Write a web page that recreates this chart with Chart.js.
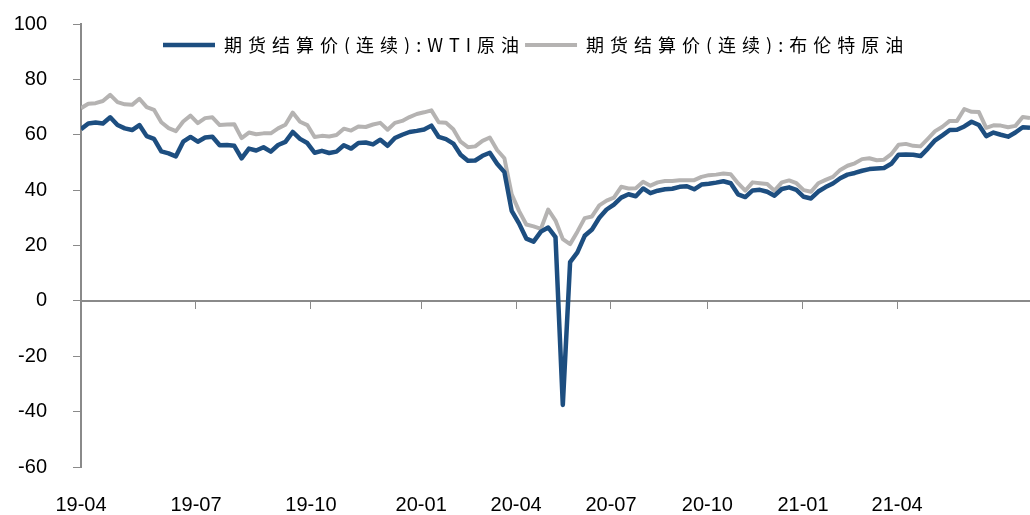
<!DOCTYPE html>
<html>
<head>
<meta charset="utf-8">
<script src="https://cdn.jsdelivr.net/npm/chart.js@4/dist/chart.umd.min.js"></script>
<style>
  html, body { margin: 0; padding: 0; background: #fff; }
  #wrap { width: 1030px; height: 515px; }
</style>
</head>
<body>
<div id="wrap"><canvas id="oilChart" width="1030" height="515"></canvas></div>
<script>
// weekly settlement prices, continuous front-month contract (USD/bbl)
const wti = [
  62.0, 64.1, 64.4, 64.1, 66.3, 63.5, 62.3, 61.7, 63.5, 59.5,
  58.5, 54.0, 53.3, 52.2, 57.5, 59.2, 57.5, 59.0, 59.3, 56.2,
  56.3, 56.0, 51.5, 55.0, 54.3, 55.5, 53.9, 56.3, 57.4, 61.0,
  58.5, 57.0, 53.5, 54.2, 53.4, 53.9, 56.2, 55.0, 57.0, 57.2,
  56.5, 58.2, 56.0, 58.8, 60.0, 61.0, 61.4, 61.9, 63.3, 59.2,
  58.4, 56.8, 52.8, 50.6, 50.7, 52.4, 53.5, 49.5, 46.5, 32.5,
  28.0, 22.5, 21.4, 25.0, 26.5, 23.0, -37.6, 14.0, 17.5, 23.5,
  25.8, 30.0, 33.0, 34.8, 37.3, 38.5, 37.8, 40.6, 38.9, 39.8,
  40.3, 40.5, 41.2, 41.4, 40.3, 42.0, 42.3, 42.7, 43.2, 42.5,
  38.5, 37.5, 39.9, 40.1, 39.4, 38.0, 40.4, 41.0, 40.1, 37.6,
  37.0, 39.5, 41.1, 42.4, 44.3, 45.6, 46.2, 47.0, 47.6, 47.8,
  48.0, 49.5, 52.8, 52.9, 52.8, 52.3, 55.0, 58.0, 59.8, 61.7,
  61.8, 63.0, 64.7, 63.5, 59.5, 60.8, 60.0, 59.3, 60.8, 62.7,
  62.5
];
const brent = [
  69.6, 71.2, 71.4, 72.2, 74.4, 71.8, 71.0, 70.8, 73.0, 70.0,
  69.0, 64.5, 62.4, 61.3, 64.8, 66.9, 64.2, 66.0, 66.3, 63.5,
  63.7, 63.8, 58.8, 60.8, 60.2, 60.5, 60.5, 62.3, 63.6, 68.0,
  64.7, 63.5, 59.2, 59.6, 59.4, 59.9, 62.2, 61.5, 63.0, 62.8,
  63.7, 64.3, 61.8, 64.3, 65.0, 66.4, 67.5, 68.1, 68.8, 64.5,
  64.3, 62.0, 57.5, 55.5, 55.8, 57.8, 59.0, 54.5, 51.5, 38.5,
  32.5, 27.6, 26.9, 26.0, 33.0, 29.0, 22.3, 20.5, 25.0, 29.9,
  30.5, 34.5, 36.2, 37.3, 41.2, 40.6, 40.7, 43.0, 41.6, 42.8,
  43.3, 43.3, 43.6, 43.6, 43.6, 44.8, 45.4, 45.6, 46.0, 45.7,
  42.5, 39.8, 42.8, 42.5, 42.2, 39.8, 42.8, 43.5, 42.5, 40.0,
  39.4, 42.5, 43.7, 44.8, 47.3, 48.8, 49.7, 51.2, 51.5, 50.8,
  51.0, 53.0, 56.4, 56.7, 56.0, 55.8, 58.5, 61.3, 62.9, 65.0,
  65.0, 69.3, 68.3, 68.2, 62.5, 63.4, 63.3, 62.7, 63.2, 66.4,
  66.0
];

const seriesNames = ['期货结算价(连续):WTI原油', '期货结算价(连续):布伦特原油'];

// quarter labels and the sample index each one falls on
const tickLabels = ['19-04', '19-07', '19-10', '20-01', '20-04', '20-07', '20-10', '21-01', '21-04'];
const tickIndex = [0, 15.75, 31.5, 46.6, 59.6, 72.6, 85.8, 98.9, 111.8];

const yTicks = [-60, -40, -20, 0, 20, 40, 60, 80, 100];

const axisGray = '#8a8a8a';
const legendSpacing = '6px';

const toPoints = arr => arr.map((v, i) => ({ x: i, y: v }));
const setQuarterTicks = scale => {
    scale.ticks = tickIndex.map(v => ({ value: v }));
};

// legend floats inside the plot (takes no layout height) and its text is letter-spaced
const legendInPlot = {
    id: 'legendInPlot',
    beforeLayout(chart) {
        const lg = chart.legend;
        if (lg && !lg._floating) {
            const fit = lg.fit;
            lg.fit = function () {
                fit.call(this);
                this.height = 0;
            };
            lg._floating = true;
        }
        chart.ctx.letterSpacing = legendSpacing;
    },
    afterLayout(chart) {
        const lg = chart.legend;
        lg.left = 163;
        lg.top = 36;
        lg.bottom = lg.top + 18;
        chart.ctx.letterSpacing = '0px';
    },
    beforeDraw(chart) {
        chart.ctx.letterSpacing = legendSpacing;
    },
    beforeDatasetsDraw(chart) {
        chart.ctx.letterSpacing = '0px';
    }
};

const ctx = document.getElementById('oilChart').getContext('2d');
new Chart(ctx, {
    type: 'line',
    data: {
        datasets: [{
            label: seriesNames[0],
            data: toPoints(wti),
            borderColor: '#1d4e80',
            backgroundColor: '#1d4e80',
            borderWidth: 4.5,
            borderJoinStyle: 'round',
            pointRadius: 0,
            tension: 0
        }, {
            label: seriesNames[1],
            data: toPoints(brent),
            borderColor: '#b5b3b2',
            backgroundColor: '#b5b3b2',
            borderWidth: 4,
            borderJoinStyle: 'round',
            pointRadius: 0,
            tension: 0
        }]
    },
    options: {
        responsive: false,
        animation: false,
        events: [],
        layout: {
            padding: { top: 24, left: 0, right: 0, bottom: 0 }
        },
        plugins: {
            tooltip: { enabled: false },
            legend: {
                position: 'top',
                align: 'start',
                labels: {
                    usePointStyle: true,
                    pointStyle: 'line',
                    pointStyleWidth: 52,
                    padding: 0,
                    color: '#000',
                    font: { family: '"Noto Sans CJK SC"', size: 18 }
                }
            }
        },
        scales: {
            x: {
                type: 'linear',
                position: 'bottom',
                min: 0,
                max: wti.length - 1,
                afterBuildTicks: setQuarterTicks,
                afterFit: scale => {
                    scale.height = 48;
                },
                border: { display: false },
                grid: { display: false, drawTicks: false },
                ticks: {
                    z: 1,
                    autoSkip: false,
                    maxRotation: 0,
                    padding: 26,
                    color: '#000',
                    font: { family: '"Liberation Sans", Arial, sans-serif', size: 20 },
                    callback: (v, i) => tickLabels[i]
                }
            },
            // zero line with the quarter tick marks hanging below it
            xZero: {
                type: 'linear',
                position: { y: 0 },
                min: 0,
                max: wti.length - 1,
                afterBuildTicks: setQuarterTicks,
                afterFit: scale => {
                    scale.height = 0;
                },
                border: { display: true, color: axisGray, width: 2 },
                grid: {
                    display: true,
                    drawOnChartArea: false,
                    drawTicks: true,
                    tickLength: 7,
                    tickColor: axisGray,
                    tickWidth: 1
                },
                ticks: { display: false }
            },
            y: {
                position: 'left',
                min: -60,
                max: 100,
                afterBuildTicks: scale => {
                    scale.ticks = yTicks.map(v => ({ value: v }));
                },
                afterFit: scale => {
                    scale.width = 81;
                    scale.paddingTop = 0;
                    scale.paddingBottom = 0;
                },
                border: { display: true, color: axisGray, width: 2 },
                grid: {
                    display: true,
                    drawOnChartArea: false,
                    drawTicks: true,
                    tickLength: 8,
                    tickColor: axisGray,
                    tickWidth: 1
                },
                ticks: {
                    z: 1,
                    padding: 26,
                    color: '#000',
                    font: { family: '"Liberation Sans", Arial, sans-serif', size: 20 }
                }
            }
        }
    },
    plugins: [legendInPlot]
});
</script>
</body>
</html>
